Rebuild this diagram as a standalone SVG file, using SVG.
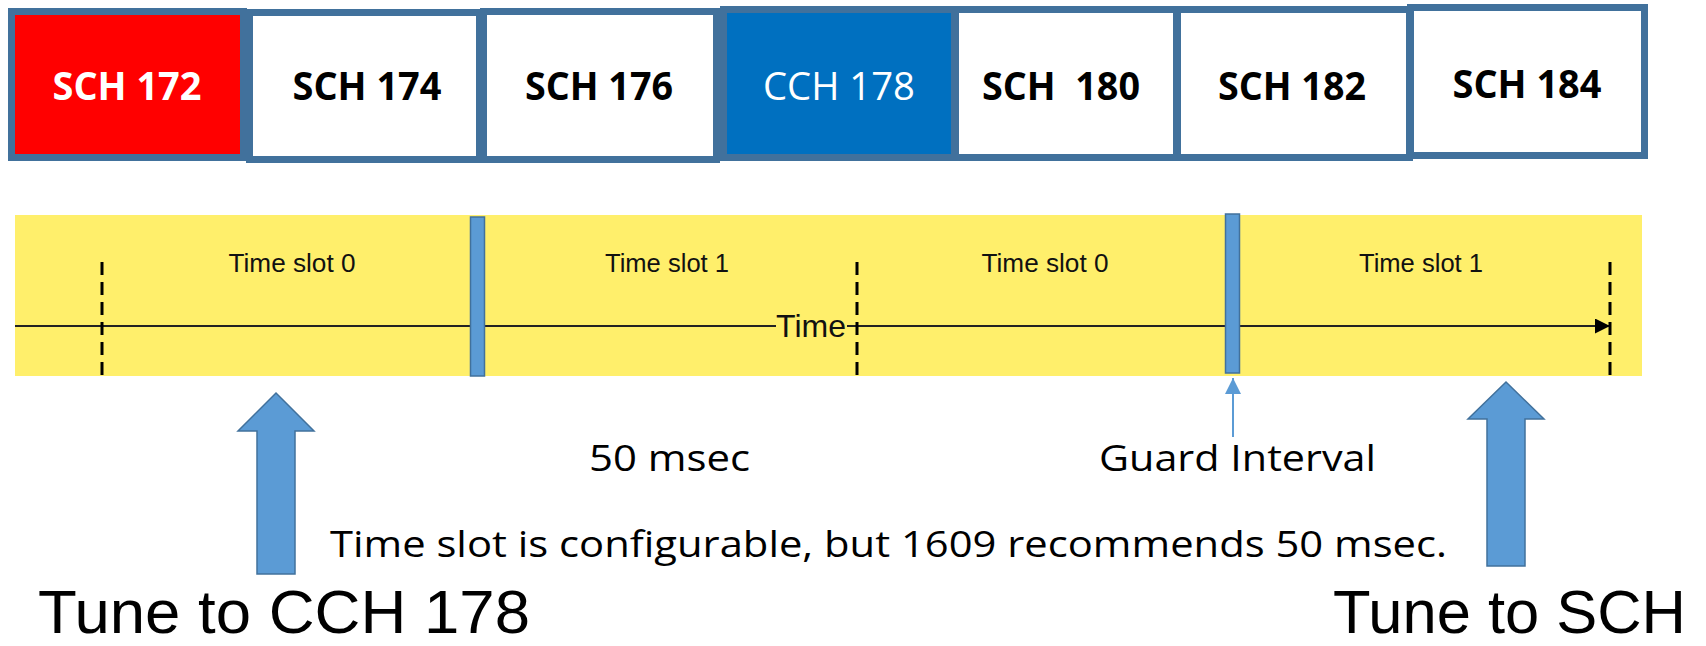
<svg xmlns="http://www.w3.org/2000/svg" width="1706" height="646" viewBox="0 0 1706 646">
  <defs>
    <style>
      .ch { stroke: #41719C; stroke-width: 7; }
      .lbl { font-family: "Open Sans", "Liberation Sans", sans-serif; font-size: 39px; text-anchor: middle; white-space: pre; }
      .bold { font-weight: bold; fill: #000; }
      .slot { font-family: "Liberation Sans", Arial, sans-serif; font-size: 25px; fill: #111; text-anchor: middle; }
      .dash { stroke: #000; stroke-width: 3; stroke-dasharray: 13 7; fill: none; }
      .guard { fill: #5B9BD5; stroke: #41719C; stroke-width: 1.5; }
      .blk { fill: #5B9BD5; stroke: #41719C; stroke-width: 1.5; }
      .note { font-family: "Open Sans", "Liberation Sans", sans-serif; font-size: 36px; fill: #000; }
      .big { font-family: "Liberation Sans", Arial, sans-serif; font-size: 62px; fill: #000; }
    </style>
    <marker id="axisHead" viewBox="0 0 10 10" refX="10" refY="5" markerWidth="19" markerHeight="15" markerUnits="userSpaceOnUse" orient="auto">
      <path d="M0,0 L10,5 L0,10 z" fill="#000"/>
    </marker>
    <marker id="thinHead" viewBox="0 0 10 10" refX="10" refY="5" markerWidth="16" markerHeight="16" markerUnits="userSpaceOnUse" orient="auto">
      <path d="M0,0 L10,5 L0,10 z" fill="#5B9BD5"/>
    </marker>
  </defs>

  <rect width="1706" height="646" fill="#fff"/>

  <!-- channel row -->
  <g id="sch172">
    <rect class="ch" x="11.5" y="11.5" width="232" height="146" fill="#FF0000"/>
    <text class="lbl bold" x="127" y="100" style="fill:#fff" textLength="149" lengthAdjust="spacingAndGlyphs">SCH 172</text>
  </g>
  <g id="sch174">
    <rect class="ch" x="249.5" y="12.5" width="230" height="147" fill="#fff"/>
    <text class="lbl bold" x="367" y="100" textLength="149" lengthAdjust="spacingAndGlyphs">SCH 174</text>
  </g>
  <g id="sch176">
    <rect class="ch" x="483.5" y="11.5" width="233" height="148" fill="#fff"/>
    <text class="lbl bold" x="599" y="100" textLength="148" lengthAdjust="spacingAndGlyphs">SCH 176</text>
  </g>
  <g id="cch178">
    <rect class="ch" x="723.5" y="9.5" width="231" height="148" fill="#0070C0"/>
    <text class="lbl" x="839" y="100" fill="#fff" textLength="152" lengthAdjust="spacingAndGlyphs">CCH 178</text>
  </g>
  <g id="sch180">
    <rect class="ch" x="955.5" y="9.5" width="221" height="148" fill="#fff"/>
    <text class="lbl bold" x="1061" y="100" textLength="158" lengthAdjust="spacingAndGlyphs">SCH  180</text>
  </g>
  <g id="sch182">
    <rect class="ch" x="1177.5" y="9.5" width="232" height="148" fill="#fff"/>
    <text class="lbl bold" x="1292" y="100" textLength="148" lengthAdjust="spacingAndGlyphs">SCH 182</text>
  </g>
  <g id="sch184">
    <rect class="ch" x="1410.5" y="7.5" width="234" height="148" fill="#fff"/>
    <text class="lbl bold" x="1527" y="98" textLength="149" lengthAdjust="spacingAndGlyphs">SCH 184</text>
  </g>

  <!-- time line band -->
  <g id="timeline">
    <rect x="15" y="215" width="1627" height="161" fill="#FFEF6B"/>
    <line x1="15" y1="326" x2="776" y2="326" stroke="#222" stroke-width="2"/>
    <line x1="847" y1="326" x2="1610" y2="326" stroke="#222" stroke-width="2" marker-end="url(#axisHead)"/>
    <text x="776" y="337" font-family="Liberation Sans, Arial, sans-serif" font-size="32" fill="#111" textLength="70" lengthAdjust="spacingAndGlyphs">Time</text>
    <line class="dash" x1="102" y1="262" x2="102" y2="376"/>
    <line class="dash" x1="857" y1="262" x2="857" y2="376"/>
    <line class="dash" x1="1610" y1="262" x2="1610" y2="376"/>
    <text class="slot" x="292" y="272" textLength="127" lengthAdjust="spacingAndGlyphs">Time slot 0</text>
    <text class="slot" x="667" y="272" textLength="124" lengthAdjust="spacingAndGlyphs">Time slot 1</text>
    <text class="slot" x="1045" y="272" textLength="127" lengthAdjust="spacingAndGlyphs">Time slot 0</text>
    <text class="slot" x="1421" y="272" textLength="124" lengthAdjust="spacingAndGlyphs">Time slot 1</text>
  </g>

  <g id="guard1">
    <rect class="guard" x="470.5" y="217" width="14" height="159"/>
  </g>
  <g id="guard2">
    <rect class="guard" x="1225.5" y="214" width="14" height="159"/>
  </g>

  <g id="connectors">
    <line x1="1233" y1="437" x2="1233" y2="378" stroke="#5B9BD5" stroke-width="2" marker-end="url(#thinHead)"/>
  </g>

  <g id="tune-cch">
    <path class="blk" d="M276,393 L314,431 L295,431 L295,574 L257,574 L257,431 L238,431 Z"/>
    <text class="big" x="38" y="633" textLength="492" lengthAdjust="spacingAndGlyphs">Tune to CCH 178</text>
  </g>
  <g id="tune-sch">
    <path class="blk" d="M1506,382 L1544,419 L1525,419 L1525,566 L1487,566 L1487,419 L1468,419 Z"/>
    <text class="big" x="1333" y="633" textLength="353" lengthAdjust="spacingAndGlyphs">Tune to SCH</text>
  </g>

  <g id="notes">
    <text class="note" x="589" y="471" textLength="161" lengthAdjust="spacingAndGlyphs">50 msec</text>
    <text class="note" x="1099" y="471" textLength="277" lengthAdjust="spacingAndGlyphs">Guard Interval</text>
    <text class="note" x="330" y="557" textLength="1117" lengthAdjust="spacingAndGlyphs">Time slot is configurable, but 1609 recommends 50 msec.</text>
  </g>
</svg>
